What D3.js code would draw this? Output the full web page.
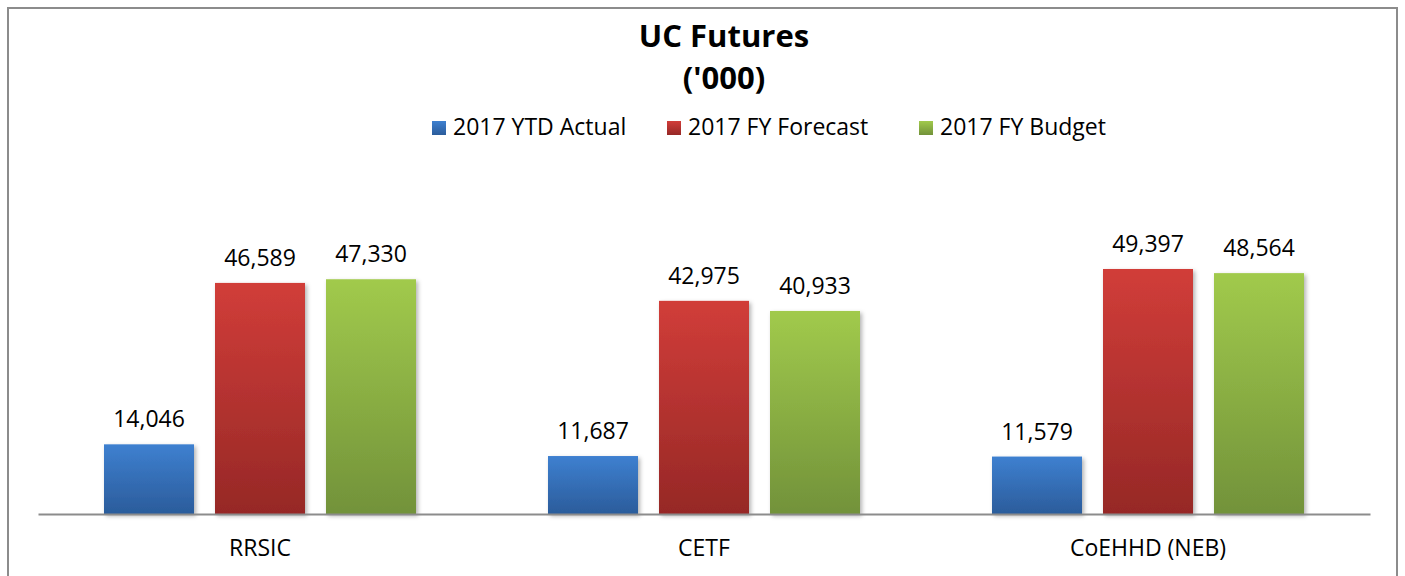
<!DOCTYPE html>
<html lang="en">
    <head>
        <meta charset="utf-8">
        <title>UC Futures</title>
        <script src="https://d3js.org/d3.v7.min.js"></script>
        <style type="text/css">
            body { margin: 0; background: #fff; }
            text { font-family: "Open Sans", sans-serif; fill: #000; }
        </style>
    </head>
    <body>
        <script type="text/javascript">

            //chart data
            const categories = ["RRSIC", "CETF", "CoEHHD (NEB)"];
            const seriesNames = ["2017 YTD Actual", "2017 FY Forecast", "2017 FY Budget"];
            const ytdActual = [14046, 11687, 11579];
            const fyForecast = [46589, 42975, 49397];
            const fyBudget = [47330, 40933, 48564];

            const seriesValues = [ytdActual, fyForecast, fyBudget];

            //colours (top, bottom of gradient)
            const colors = [
                ["#3e80d0", "#2b5c9b"],
                ["#d13d39", "#962826"],
                ["#a1ca4c", "#72923a"]
            ];

            const w = 1405;
            const h = 576;
            const left = 38, right = 1370, baseY = 514;

            const svg = d3.select("body")
                .append("svg")
                .attr("width", w)
                .attr("height", h);

            const defs = svg.append("defs");

            colors.forEach((c, i) => {
                const g = defs.append("linearGradient")
                    .attr("id", "grad" + i)
                    .attr("x1", 0).attr("y1", 0)
                    .attr("x2", 0).attr("y2", 1);
                g.append("stop").attr("offset", "0%").attr("stop-color", c[0]);
                g.append("stop").attr("offset", "100%").attr("stop-color", c[1]);
            });

            const shadow = defs.append("filter")
                .attr("id", "shadow")
                .attr("x", "-10%").attr("y", "-10%")
                .attr("width", "130%").attr("height", "130%");
            shadow.append("feDropShadow")
                .attr("dx", 2).attr("dy", 2)
                .attr("stdDeviation", 2)
                .attr("flood-color", "#000")
                .attr("flood-opacity", 0.3);

            //outer border
            svg.append("rect")
                .attr("x", 8)
                .attr("y", 8)
                .attr("width", 1389)
                .attr("height", 600)
                .attr("fill", "none")
                .attr("stroke", "#8c8c8c")
                .attr("stroke-width", 2);

            //scales
            const x0 = d3.scaleBand()
                .domain(categories)
                .range([left, right])
                .paddingInner(132 / 444)
                .paddingOuter(66 / 444);

            const x1 = d3.scaleBand()
                .domain(seriesNames)
                .range([0, x0.bandwidth()])
                .paddingInner(21 / 111);

            const yScale = d3.scaleLinear()
                .domain([0, 60000])
                .range([baseY, 216.4]);

            //bars
            const groups = svg.selectAll(".cat")
                .data(categories)
                .enter()
                .append("g")
                .attr("class", "cat")
                .attr("transform", d => "translate(" + x0(d) + ",0)");

            groups.selectAll("rect")
                .data((d, ci) => seriesNames.map((s, si) => ({s: s, si: si, v: seriesValues[si][ci]})))
                .enter()
                .append("rect")
                .attr("x", d => x1(d.s))
                .attr("y", d => yScale(d.v))
                .attr("width", x1.bandwidth())
                .attr("height", d => baseY - yScale(d.v))
                .attr("fill", d => "url(#grad" + d.si + ")")
                .attr("filter", "url(#shadow)");

            //value labels
            groups.selectAll(".val")
                .data((d, ci) => seriesNames.map((s, si) => ({s: s, v: seriesValues[si][ci]})))
                .enter()
                .append("text")
                .attr("class", "val")
                .attr("x", d => x1(d.s) + x1.bandwidth() / 2)
                .attr("y", d => yScale(d.v) - 17)
                .attr("text-anchor", "middle")
                .attr("font-size", "23px")
                .text(d => d3.format(",")(d.v));

            //x axis
            const bottomAxis = d3.axisBottom(x0)
                .tickSize(0)
                .tickPadding(26);

            const axisG = svg.append("g")
                .attr("transform", "translate(0," + baseY + ")")
                .call(bottomAxis);
            axisG.select(".domain")
                .attr("stroke", "#8c8c8c")
                .attr("stroke-width", 2);
            axisG.selectAll("text")
                .attr("font-size", "23px")
                .attr("font-family", "Open Sans, sans-serif")
                .attr("fill", "#000");

            //title
            svg.append("text")
                .attr("x", 724)
                .attr("y", 47)
                .attr("text-anchor", "middle")
                .attr("font-size", "31px")
                .attr("font-weight", "bold")
                .text("UC Futures");

            svg.append("text")
                .attr("x", 724)
                .attr("y", 89)
                .attr("text-anchor", "middle")
                .attr("font-size", "31px")
                .attr("font-weight", "bold")
                .text("('000)");

            //legend
            const legendX = [432, 667, 919];
            const legend = svg.selectAll(".legend")
                .data(seriesNames)
                .enter()
                .append("g")
                .attr("class", "legend")
                .attr("transform", (d, i) => "translate(" + legendX[i] + ",0)");

            legend.append("rect")
                .attr("x", 0)
                .attr("y", 121)
                .attr("width", 14)
                .attr("height", 14)
                .attr("fill", (d, i) => "url(#grad" + i + ")");

            legend.append("text")
                .attr("x", 21)
                .attr("y", 135)
                .attr("font-size", "23px")
                .text(d => d);

        </script>
    </body>
</html>
